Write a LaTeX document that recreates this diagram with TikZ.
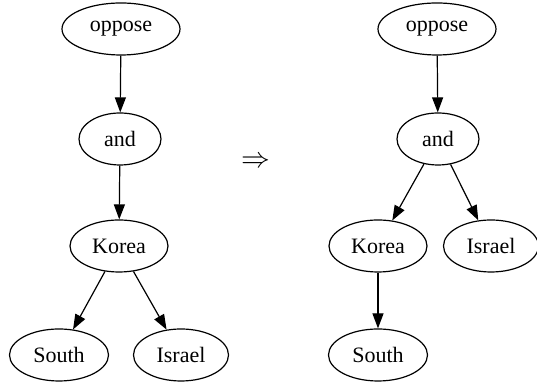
\documentclass[tikz,border=0pt]{standalone}
\usepackage{fontspec}
\setmainfont{Liberation Serif}
\usetikzlibrary{arrows.meta,shapes.geometric}

\begin{document}
\begin{tikzpicture}[x=0.5pt,y=-0.5pt,
  word/.style={draw, ellipse, line width=0.6pt, minimum height=26pt, inner sep=0pt, font=\fontsize{11}{13}\selectfont},
  link/.style={-{Triangle[length=7.5pt,width=5.5pt]}, line width=0.6pt}]
  \useasboundingbox (0,0) rectangle (537,383);
  % before
  \node[word, minimum width=59pt] (oppL) at (121,29) {oppose};
  \node[word, minimum width=41pt] (andL) at (120,139) {and};
  \node[word, minimum width=49pt] (korL) at (119,246) {Korea};
  \node[word, minimum width=49.5pt] (souL) at (59,355) {South};
  \node[word, minimum width=47.5pt] (isrL) at (181,355) {Israel};
  % after
  \node[word, minimum width=59pt] (oppR) at (437,29) {oppose};
  \node[word, minimum width=41pt] (andR) at (438,139) {and};
  \node[word, minimum width=49pt] (korR) at (378,246) {Korea};
  \node[word, minimum width=47.5pt] (isrR) at (491,246) {Israel};
  \node[word, minimum width=49.5pt] (souR) at (378,355) {South};
  \node (to) at (256,162) {\fontsize{14}{16}\selectfont$\Rightarrow$};
  \foreach \a/\b in {oppL/andL, andL/korL, korL/souL, korL/isrL,
                     oppR/andR, andR/korR, andR/isrR, korR/souR}{
    \draw[link] (\a) -- (\b);
  }
\end{tikzpicture}
\end{document}
